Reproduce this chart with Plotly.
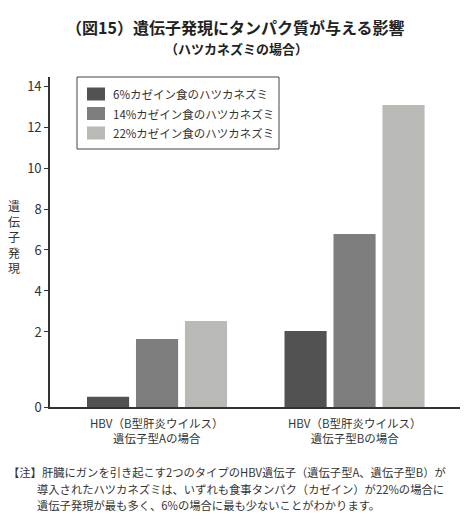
import plotly.graph_objects as go

# ---- data ----
group_line1 = ["HBV（B型肝炎ウイルス）", "HBV（B型肝炎ウイルス）"]
group_line2 = ["遺伝子型Aの場合", "遺伝子型Bの場合"]
series_names = ["6%カゼイン食のハツカネズミ", "14%カゼイン食のハツカネズミ", "22%カゼイン食のハツカネズミ"]
casein6 = [0.27, 2.05]
casein14 = [1.81, 6.78]
casein22 = [2.54, 13.07]
y_ticks = [0, 2, 4, 6, 8, 10, 12, 14]
colors = ["#525252", "#7d7d7d", "#b9bab6"]

# ---- figure geometry ----
W, H = 469, 524
ML, MR, MT, MB = 50, 9, 77, 117
PW, PH = W - ML - MR, H - MT - MB

# The original axis stretches the 0-2 interval (broken-style scale)
LOW_STRETCH = 1.83


def to_axis(v):
    return v if v >= 2 else 2 - (2 - v) * LOW_STRETCH


BASE = to_axis(0)


def px_x(x):
    return (x - ML) / PW


def px_y(y):
    return (H - MB - y) / PH


fig = go.Figure()
for name, vals, col in zip(series_names, [casein6, casein14, casein22], colors):
    fig.add_trace(go.Bar(
        x=[0, 1],
        y=[to_axis(v) - BASE for v in vals],
        base=BASE,
        name=name,
        marker=dict(color=col, line=dict(width=0)),
        showlegend=False,
    ))

font_family = "Noto Sans CJK JP, Noto Sans, sans-serif"

fig.update_layout(
    width=W, height=H,
    margin=dict(l=ML, r=MR, t=MT, b=MB, pad=0),
    paper_bgcolor="white", plot_bgcolor="white",
    barmode="group", bargap=0.256, bargroupgap=0.14,
    font=dict(family=font_family, color="#333333", size=12),
    showlegend=False,
    xaxis=dict(
        range=[-0.542, 1.534],
        tickvals=[0, 1], showticklabels=False,
        showline=True, linecolor="#333333", linewidth=1.6,
        ticks="", showgrid=False, zeroline=False,
    ),
    yaxis=dict(
        range=[BASE, 14.44],
        tickvals=[to_axis(t) for t in y_ticks],
        ticktext=[str(t) for t in y_ticks],
        showline=True, linecolor="#333333", linewidth=1.6,
        ticks="outside", ticklen=4, tickcolor="#333333",
        showgrid=False, zeroline=False,
        tickfont=dict(size=13, color="#333333"),
    ),
)

# ---- manual legend (box + swatches + labels) ----
fig.add_shape(type="rect", xref="paper", yref="paper",
              x0=px_x(77), x1=px_x(279), y0=px_y(149), y1=px_y(77),
              line=dict(color="#444444", width=1), fillcolor="white", layer="above")
for i, (name, col) in enumerate(zip(series_names, colors)):
    yc = [94, 113.5, 133][i]
    fig.add_shape(type="rect", xref="paper", yref="paper",
                  x0=px_x(87), x1=px_x(105), y0=px_y(yc + 6.5), y1=px_y(yc - 6.5),
                  line=dict(width=0), fillcolor=col, layer="above")
    fig.add_annotation(text=name, x=px_x(111), y=px_y(yc), xref="paper", yref="paper",
                       showarrow=False, xanchor="left", yanchor="middle",
                       font=dict(size=11.5, color="#333333"))

# ---- category labels ----
for i in range(2):
    fig.add_annotation(text=group_line1[i] + "<br>" + group_line2[i], x=i, y=px_y(430),
                       xref="x", yref="paper",
                       showarrow=False, xanchor="center", yanchor="middle",
                       font=dict(size=11.5, color="#333333"))

ann = [
    dict(text="<b>（図15）遺伝子発現にタンパク質が与える影響</b>", x=px_x(235), y=px_y(27),
         font=dict(size=16, color="#222222")),
    dict(text="<b>（ハツカネズミの場合）</b>", x=px_x(236), y=px_y(48),
         font=dict(size=13, color="#222222")),
    dict(text="遺<br>伝<br>子<br>発<br>現", x=px_x(14), y=px_y(236),
         font=dict(size=12, color="#333333")),
]
for a in ann:
    a.update(xref="paper", yref="paper", showarrow=False, xanchor="center", yanchor="middle")
    fig.add_annotation(**a)

notes = [
    ("【注】肝臓にガンを引き起こす2つのタイプのHBV遺伝子（遺伝子型A、遺伝子型B）が", 6, 472),
    ("導入されたハツカネズミは、いずれも食事タンパク（カゼイン）が22%の場合に", 35, 488.5),
    ("遺伝子発現が最も多く、6%の場合に最も少ないことがわかります。", 35, 505),
]
for txt, x, y in notes:
    fig.add_annotation(text=txt, x=px_x(x), y=px_y(y), xref="paper", yref="paper",
                       showarrow=False, xanchor="left", yanchor="middle",
                       font=dict(size=11.3, color="#333333"))

fig.write_html("out.html")
